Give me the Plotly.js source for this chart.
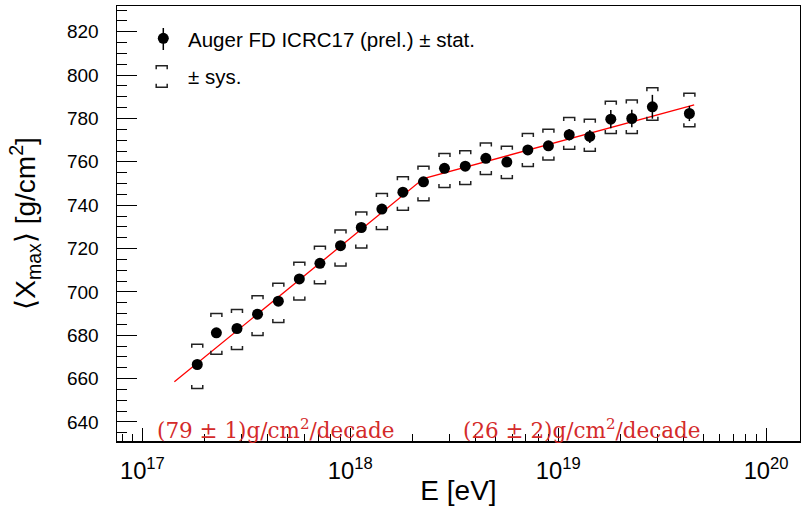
<!DOCTYPE html>
<html>
<head>
<meta charset="utf-8">
<script src="https://cdn.plot.ly/plotly-3.0.1.min.js"></script>
<style>
  html, body { margin: 0; padding: 0; background: #fff; }
  #chart { width: 801px; height: 506px; }
</style>
</head>
<body>
<div id="chart"></div>
<script>
// Auger FD ICRC17 (preliminary) mean depth of shower maximum
const log10E = [17.264, 17.356, 17.455, 17.554, 17.654, 17.755, 17.854, 17.953,
                18.053, 18.152, 18.253, 18.352, 18.453, 18.553, 18.652, 18.753,
                18.854, 18.953, 19.053, 19.152, 19.253, 19.354, 19.453, 19.631];
const xmaxMean = [666.5, 681.1, 683.1, 689.7, 695.7, 706.0, 713.2, 721.3,
                  729.7, 738.2, 746.0, 750.8, 757.0, 758.0, 761.6, 759.9,
                  765.5, 767.4, 772.5, 771.7, 779.7, 780.0, 785.4, 782.3];
const statErr = [1.0, 1.0, 1.0, 1.0, 1.0, 1.0, 1.0, 1.0,
                 1.0, 1.0, 1.2, 1.2, 1.3, 1.5, 1.6, 1.8,
                 2.0, 2.2, 2.7, 3.0, 4.2, 4.0, 5.5, 3.5];
// systematic band edges (upper / lower bracket)
const sysHigh = [675.8, 690.0, 691.9, 698.2, 704.0, 713.7, 721.0, 728.5,
                 736.8, 745.4, 753.1, 758.0, 763.9, 765.1, 768.7, 767.2,
                 773.1, 775.0, 780.5, 779.7, 788.0, 788.5, 794.2, 791.6];
const sysLow  = [655.4, 671.2, 673.4, 679.9, 685.9, 696.2, 703.7, 711.9,
                 720.3, 728.8, 737.7, 742.0, 748.2, 749.6, 754.1, 752.3,
                 757.8, 760.8, 765.8, 764.9, 773.1, 773.1, 779.2, 776.2];

// broken-line fit: start, break, end
const fitLog10E = [17.154, 18.352, 19.654];
const fitXmax   = [658.5, 752.3, 786.3];

const rateLabels = ['(79 \u00b1 1)g/cm<sup>2</sup>/decade', '(26 \u00b1 2)g/cm<sup>2</sup>/decade'];

const energy = log10E.map(v => Math.pow(10, v));
const fitEnergy = fitLog10E.map(v => Math.pow(10, v));

const traces = [
  {
    x: fitEnergy, y: fitXmax, type: 'scatter', mode: 'lines',
    line: { color: '#ff0000', width: 1.3 }, hoverinfo: 'skip', showlegend: false
  },
  {
    x: energy, y: xmaxMean, type: 'scatter', mode: 'markers',
    marker: { color: '#000', size: 11 },
    error_y: { type: 'data', array: statErr, visible: true, color: '#000', thickness: 1.5, width: 0 },
    showlegend: false
  }
];

// bracket drawn in pixel units around an anchor; dir = -1 opens down, +1 opens up
function bracket(xref, yref, xa, ya, dir, halfW, tick) {
  const t = dir * tick;
  return {
    type: 'path', xref: xref, yref: yref,
    xsizemode: 'pixel', ysizemode: 'pixel', xanchor: xa, yanchor: ya,
    path: `M${-halfW},${t} L${-halfW},0 L${halfW},0 L${halfW},${t}`,
    line: { color: '#222', width: 1.5 }, layer: 'above'
  };
}

const shapes = [];
energy.forEach((e, i) => {
  shapes.push(bracket('x', 'y', e, sysHigh[i], -1, 5.5, 3.5));
  shapes.push(bracket('x', 'y', e, sysLow[i], 1, 5.5, 3.5));
});

// legend symbols
const W = 683, H = 434.7;
const px = v => (v - 117) / W;
const py = v => (440.7 - v) / H;
shapes.push({ type: 'line', xref: 'paper', yref: 'paper', x0: px(163.3), x1: px(163.3), y0: py(28), y1: py(50),
              line: { color: '#000', width: 1.5 } });
shapes.push({ type: 'circle', xref: 'paper', yref: 'paper', xsizemode: 'pixel', ysizemode: 'pixel',
              xanchor: px(163.3), yanchor: py(38.3), x0: -5.5, x1: 5.5, y0: -5.5, y1: 5.5,
              fillcolor: '#000', line: { color: '#000', width: 0 } });
shapes.push(bracket('paper', 'paper', px(161.7), py(65.7), -1, 5.5, 3.5));
shapes.push(bracket('paper', 'paper', px(161.7), py(87.3), 1, 5.5, 3.5));

const annotations = [
  { text: 'Auger FD ICRC17 (prel.) \u00b1 stat.', xref: 'paper', yref: 'paper', x: px(186), y: py(39.3),
    xanchor: 'left', yanchor: 'middle', showarrow: false,
    font: { family: 'Liberation Sans, Arial, sans-serif', size: 20.5, color: '#000' } },
  { text: '\u00b1 sys.', xref: 'paper', yref: 'paper', x: px(186), y: py(76.7),
    xanchor: 'left', yanchor: 'middle', showarrow: false,
    font: { family: 'Liberation Sans, Arial, sans-serif', size: 20.5, color: '#000' } },
  { text: rateLabels[0], xref: 'paper', yref: 'paper', x: px(155), y: py(428.5),
    xanchor: 'left', yanchor: 'middle', showarrow: false,
    font: { family: 'DejaVu Serif, serif', size: 21.5, color: '#d42a2a' } },
  { text: rateLabels[1], xref: 'paper', yref: 'paper', x: px(461), y: py(428.5),
    xanchor: 'left', yanchor: 'middle', showarrow: false,
    font: { family: 'DejaVu Serif, serif', size: 21.5, color: '#d42a2a' } }
];

const layout = {
  width: 801, height: 506,
  margin: { l: 117, r: 1, t: 6, b: 65.3 },
  paper_bgcolor: '#fff', plot_bgcolor: '#fff',
  font: { family: 'Liberation Sans, Arial, sans-serif', color: '#000' },
  showlegend: false,
  xaxis: {
    type: 'log', range: [16.878, 20.163],
    dtick: 1, exponentformat: 'power', showexponent: 'all',
    ticks: 'inside', ticklen: 13, tickwidth: 1, tickcolor: '#000',
    minor: { ticks: 'inside', ticklen: 7, dtick: 'D1', tickcolor: '#000', tickwidth: 1 },
    showline: true, linecolor: '#000', linewidth: 1.5, mirror: true,
    showgrid: false, zeroline: false,
    tickfont: { size: 19 }, ticklabelstandoff: 9,
    title: { text: 'E [eV]', font: { size: 28 }, standoff: 6 }
  },
  yaxis: {
    range: [631.2, 831.9],
    dtick: 20, tick0: 0,
    ticks: 'inside', ticklen: 20, tickwidth: 1, tickcolor: '#000',
    minor: { ticks: 'inside', ticklen: 10, dtick: 5, tickcolor: '#000', tickwidth: 1 },
    showline: true, linecolor: '#000', linewidth: 1.5, mirror: true,
    showgrid: false, zeroline: false,
    tickfont: { size: 19 }, ticklabelstandoff: 13,
    title: { text: '\u27e8X<sub>max</sub>\u27e9 [g/cm<sup>2</sup>]', font: { size: 28 }, standoff: 23 }
  },
  shapes: shapes,
  annotations: annotations
};

Plotly.newPlot('chart', traces, layout, { displayModeBar: false, staticPlot: true });
</script>
</body>
</html>
